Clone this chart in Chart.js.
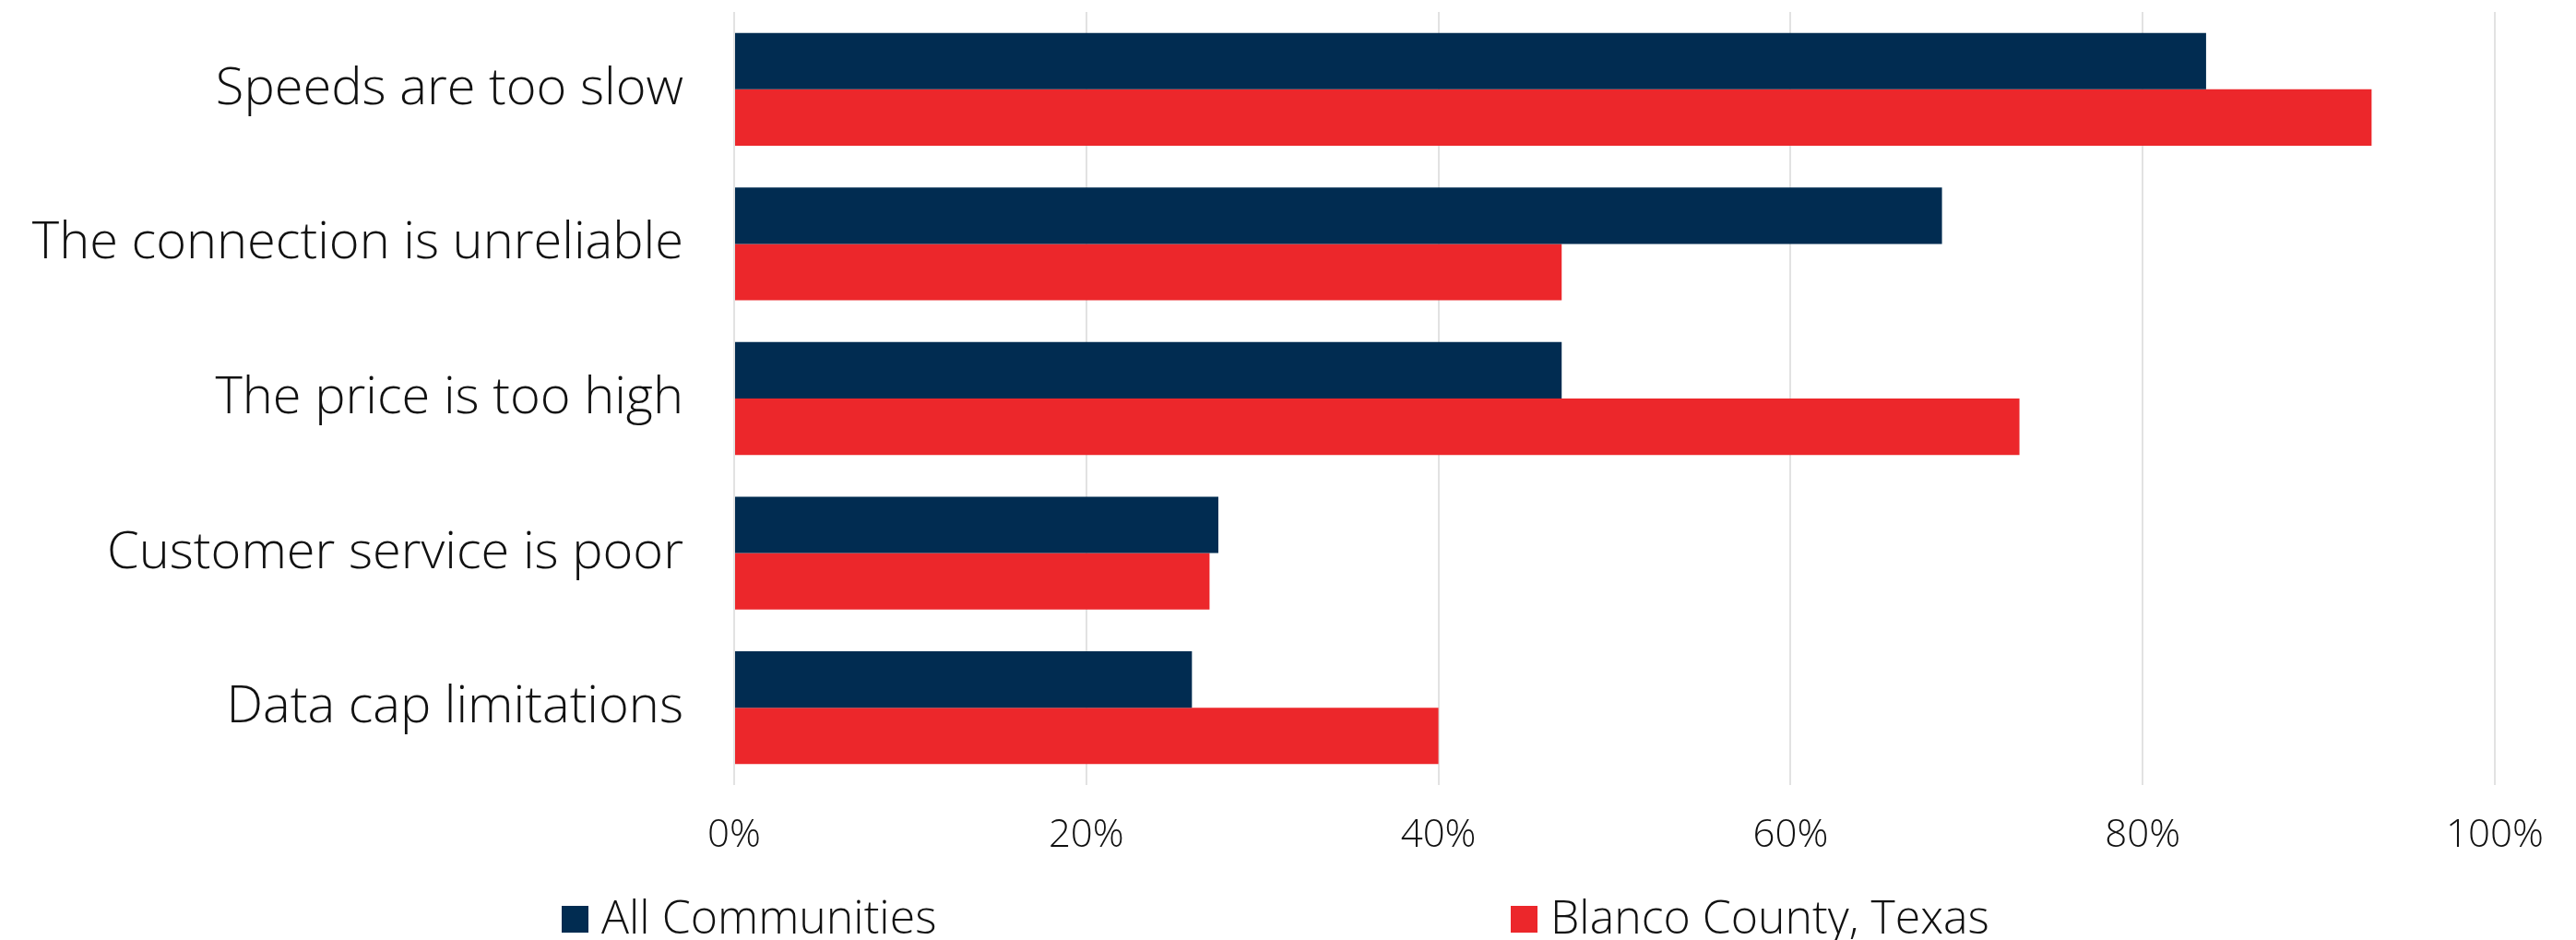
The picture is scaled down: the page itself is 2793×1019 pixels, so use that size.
<!DOCTYPE html>
<html>
<head>
<meta charset="utf-8">
<script src="https://cdn.jsdelivr.net/npm/chart.js@4"></script>
<style>
  html, body { margin: 0; padding: 0; background: #fff; }
  #wrap { position: relative; width: 2793px; height: 1019px; }
  #legend { position: absolute; left: 0; top: 959px; width: 2793px; height: 55px; font-family: "Open Sans", Lato, sans-serif; font-weight: 300; font-size: 50px; color: #111; }
  .item { position: absolute; top: 0; display: flex; align-items: center; white-space: nowrap; }
  .box { width: 29px; height: 29px; margin-right: 14px; margin-top: 6px; }
</style>
</head>
<body>
<div id="wrap">
  <canvas id="chart" width="2793" height="1019"></canvas>
  <div id="legend"></div>
</div>
<script>
const categories = ["Speeds are too slow", "The connection is unreliable", "The price is too high", "Customer service is poor", "Data cap limitations"];
const allCommunities = [83.6, 68.6, 47.0, 27.5, 26.0];
const blancoCounty = [93.0, 47.0, 73.0, 27.0, 40.0];
const seriesNames = ["All Communities", "Blanco County, Texas"];
const seriesColors = ["#012c51", "#ec272b"];
const legendLefts = [609, 1638];

const font = "'Open Sans', Lato, sans-serif";

const chart = new Chart(document.getElementById('chart'), {
  type: 'bar',
  data: {
    labels: categories,
    datasets: [
      { label: seriesNames[0], data: allCommunities, backgroundColor: seriesColors[0] },
      { label: seriesNames[1], data: blancoCounty, backgroundColor: seriesColors[1] }
    ]
  },
  options: {
    indexAxis: 'y',
    responsive: false,
    animation: false,
    devicePixelRatio: 1,
    categoryPercentage: 0.73,
    barPercentage: 1.0,
    layout: { padding: { top: 13, right: 88, bottom: 0, left: 0 } },
    plugins: { legend: { display: false }, tooltip: { enabled: false } },
    scales: {
      x: {
        min: 0, max: 100,
        border: { display: false },
        grid: { color: '#e2e2e2', lineWidth: 2, drawTicks: false },
        ticks: {
          stepSize: 20, padding: 30, color: '#111',
          font: { family: font, size: 42, weight: '300' },
          callback: v => v + '%'
        },
        afterFit: s => { s.height = 168; }
      },
      y: {
        border: { display: false },
        grid: { display: false, drawTicks: false },
        ticks: {
          padding: 55, color: '#111',
          font: { family: font, size: 56, weight: '300' }
        },
        afterFit: s => { s.width = 796; s.paddingTop = 0; s.paddingBottom = 0; }
      }
    }
  }
});

const legend = document.getElementById('legend');
chart.data.datasets.forEach((ds, i) => {
  const item = document.createElement('div');
  item.className = 'item';
  item.style.left = legendLefts[i] + 'px';
  const box = document.createElement('span');
  box.className = 'box';
  box.style.background = ds.backgroundColor;
  const txt = document.createElement('span');
  txt.textContent = ds.label;
  item.appendChild(box);
  item.appendChild(txt);
  legend.appendChild(item);
});
</script>
</body>
</html>
